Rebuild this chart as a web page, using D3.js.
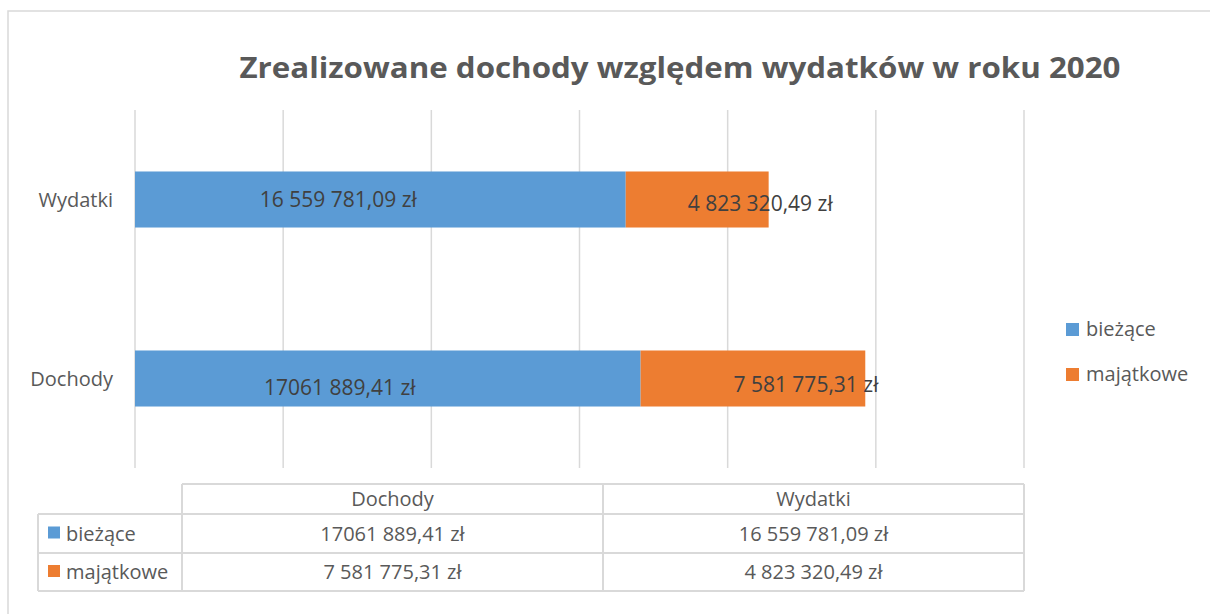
<!DOCTYPE html>
<html>
<head>
<meta charset="utf-8">
<script src="https://cdn.jsdelivr.net/npm/d3@7"></script>
<style>
  body { margin: 0; background: #fff; }
  svg { display: block; font-family: "Open Sans", sans-serif; }
</style>
</head>
<body>
<svg width="1210" height="614"></svg>
<script>
// data
const categories = ['Dochody', 'Wydatki'];
const seriesNames = ['bieżące', 'majątkowe'];
const biezace = [17061889.41, 16559781.09];
const majatkowe = [7581775.31, 4823320.49];
// labels exactly as shown on the chart
const biezaceText = ['17061 889,41 zł', '16 559 781,09 zł'];
const majatkoweText = ['7 581 775,31 zł', '4 823 320,49 zł'];
const xTicks = [0, 5000000, 10000000, 15000000, 20000000, 25000000, 30000000];

const colors = ['#5b9bd5', '#ed7d31'];
const textColor = '#595959';
const gridColor = '#d9d9d9';

const svg = d3.select('svg');

// chart area border
svg.append('rect')
    .attr('x', 8).attr('y', 11)
    .attr('width', 1220).attr('height', 640)
    .attr('fill', 'none')
    .attr('stroke', gridColor)
    .attr('stroke-width', 1.5);

// title
svg.append('text')
    .attr('x', 680).attr('y', 78)
    .attr('text-anchor', 'middle')
    .attr('font-size', 29)
    .attr('font-weight', 'bold')
    .attr('fill', textColor)
    .attr('textLength', 881)
    .attr('lengthAdjust', 'spacingAndGlyphs')
    .text('Zrealizowane dochody względem wydatków w roku 2020');

const x = d3.scaleLinear()
    .domain([0, 30000000])
    .range([135, 1024]);

const y = d3.scaleBand()
    .domain(categories)
    .range([468, 110])
    .paddingInner(0.687)
    .paddingOuter(0.3435);

// gridlines
svg.append('g')
    .selectAll('line')
    .data(xTicks)
    .enter()
    .append('line')
    .attr('x1', d => x(d)).attr('x2', d => x(d))
    .attr('y1', 110).attr('y2', 468)
    .attr('stroke', gridColor)
    .attr('stroke-width', 1.5);

// category labels
svg.append('g')
    .selectAll('text')
    .data(categories)
    .enter()
    .append('text')
    .attr('x', 113)
    .attr('y', d => y(d) + y.bandwidth() / 2)
    .attr('dy', '0.35em')
    .attr('text-anchor', 'end')
    .attr('font-size', 20)
    .attr('fill', textColor)
    .text(d => d);

// stacked bars
const rows = categories.map((c, i) => ({
    cat: c,
    'bieżące': biezace[i],
    'majątkowe': majatkowe[i]
}));
const stacked = d3.stack().keys(seriesNames)(rows);

const layers = svg.append('g')
    .selectAll('g')
    .data(stacked)
    .enter()
    .append('g')
    .attr('fill', (d, i) => colors[i]);

layers.selectAll('rect')
    .data(d => d)
    .enter()
    .append('rect')
    .attr('x', d => x(d[0]))
    .attr('y', d => y(d.data.cat))
    .attr('width', d => x(d[1]) - x(d[0]))
    .attr('height', y.bandwidth());

// data labels (moved by hand in the original, so shifted from segment centre)
const labelTexts = [biezaceText, majatkoweText];
const labelShift = [
    [{ dx: -48, dy: 9 }, { dx: -42, dy: 0 }],
    [{ dx: 53, dy: 6.5 }, { dx: 63, dy: 4.5 }]
];
stacked.forEach((layer, s) => {
    svg.append('g')
        .selectAll('text')
        .data(layer)
        .enter()
        .append('text')
        .attr('x', (d, i) => (x(d[0]) + x(d[1])) / 2 + labelShift[s][i].dx)
        .attr('y', (d, i) => y(d.data.cat) + y.bandwidth() / 2 + labelShift[s][i].dy)
        .attr('dy', '0.35em')
        .attr('text-anchor', 'middle')
        .attr('font-size', 21)
        .attr('fill', '#404040')
        .text((d, i) => labelTexts[s][i]);
});

// legend
const legend = svg.append('g')
    .selectAll('g')
    .data(seriesNames)
    .enter()
    .append('g')
    .attr('transform', (d, i) => `translate(1066, ${329 + i * 45})`);

legend.append('rect')
    .attr('x', 0).attr('y', -6)
    .attr('width', 13).attr('height', 13)
    .attr('fill', (d, i) => colors[i]);

legend.append('text')
    .attr('x', 20)
    .attr('dy', '0.35em')
    .attr('font-size', 20)
    .attr('fill', textColor)
    .text(d => d);

// data table
const colX = [38, 182, 603, 1024];
const rowY = [484, 514, 553, 591];
const table = svg.append('g')
    .attr('stroke', gridColor)
    .attr('stroke-width', 2)
    .attr('fill', 'none');

// horizontal lines
table.append('line')
    .attr('x1', colX[1]).attr('x2', colX[3])
    .attr('y1', rowY[0]).attr('y2', rowY[0]);
rowY.slice(1).forEach(yy => {
    table.append('line')
        .attr('x1', colX[0]).attr('x2', colX[3])
        .attr('y1', yy).attr('y2', yy);
});
// vertical lines
colX.forEach((xx, i) => {
    table.append('line')
        .attr('x1', xx).attr('x2', xx)
        .attr('y1', i === 0 ? rowY[1] : rowY[0])
        .attr('y2', rowY[3]);
});

const cellText = svg.append('g')
    .attr('font-size', 20)
    .attr('fill', textColor);

// header
categories.forEach((c, j) => {
    cellText.append('text')
        .attr('x', (colX[j + 1] + colX[j + 2]) / 2)
        .attr('y', (rowY[0] + rowY[1]) / 2)
        .attr('dy', '0.35em')
        .attr('text-anchor', 'middle')
        .text(c);
});

// rows
seriesNames.forEach((s, r) => {
    const cy = (rowY[r + 1] + rowY[r + 2]) / 2;
    svg.append('rect')
        .attr('x', 48).attr('y', cy - 7)
        .attr('width', 12).attr('height', 12)
        .attr('fill', colors[r]);
    cellText.append('text')
        .attr('x', 66)
        .attr('y', cy)
        .attr('dy', '0.35em')
        .text(s);
    categories.forEach((c, j) => {
        cellText.append('text')
            .attr('x', (colX[j + 1] + colX[j + 2]) / 2)
            .attr('y', cy)
            .attr('dy', '0.35em')
            .attr('text-anchor', 'middle')
            .text(labelTexts[r][j]);
    });
});
</script>
</body>
</html>
